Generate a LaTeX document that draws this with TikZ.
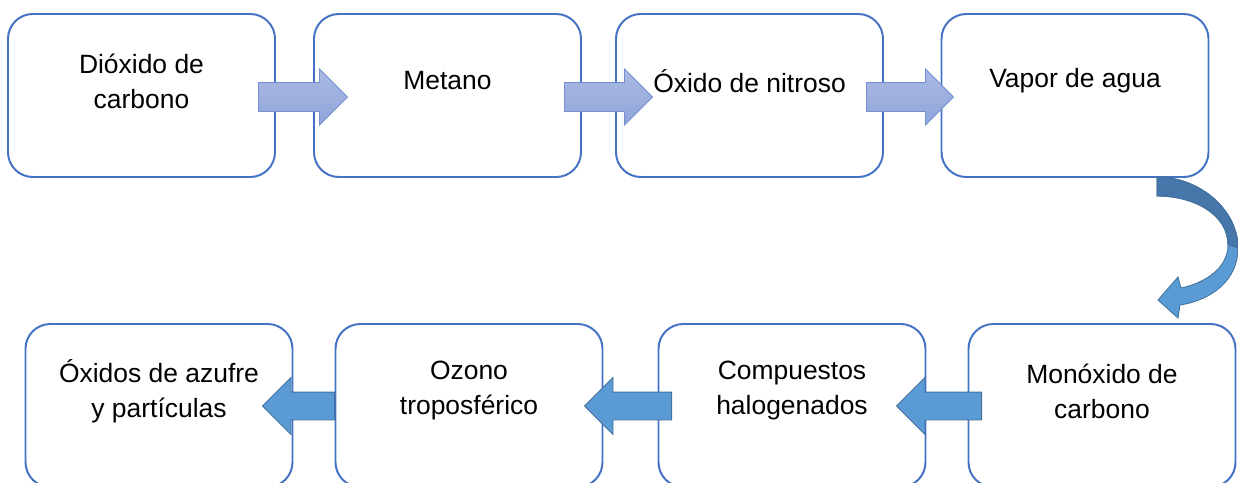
\documentclass[tikz,border=0pt]{standalone}
\usepackage{fontspec}
\setmainfont{Liberation Sans}
\usetikzlibrary{shapes.arrows}
\definecolor{boxblue}{HTML}{4472C4}
\definecolor{arrtop}{HTML}{AAB9E3}
\definecolor{arrbot}{HTML}{8FA5DA}
\definecolor{arrline}{HTML}{7490D0}
\definecolor{backblue}{HTML}{5B9BD5}
\definecolor{backline}{HTML}{41719C}
\definecolor{curvedark}{HTML}{4676AA}
\newcommand{\px}{0.025cm}

\begin{document}
\begin{tikzpicture}[x=0.025cm,y=-0.025cm,
    gasbox/.style={draw=boxblue,line width=1.4pt,rounded corners=0.62cm,
      minimum width=267*\px,minimum height=163*\px,inner sep=0pt},
    gastext/.style={align=center,font=\fontsize{18.8}{24.9}\selectfont},
    fwdarrow/.style={single arrow,single arrow head extend=0.3375cm,
      text height=0.35cm,text depth=0.35cm,inner sep=0pt,anchor=tail,
      top color=arrtop,bottom color=arrbot,draw=arrline,line width=0.6pt},
    backarrow/.style={single arrow,single arrow head extend=0.3625cm,
      text height=0.3375cm,text depth=0.3375cm,inner sep=0pt,anchor=tail,
      fill=backblue,draw=backline,line width=0.6pt,shape border rotate=180}]
    % marco
    \useasboundingbox (0,0) rectangle (1238,482);

    % fila de arriba
    \node[gasbox] (b1) at (141.5,95.5) {};
    \node[gasbox] (b2) at (447.5,95.5) {};
    \node[gasbox] (b3) at (749.5,95.5) {};
    \node[gasbox] (b4) at (1075,95.5) {};

    % fila de abajo
    \node[gasbox] (b5) at (159,405.5) {};
    \node[gasbox] (b6) at (469,405.5) {};
    \node[gasbox] (b7) at (792,405.5) {};
    \node[gasbox] (b8) at (1102,405.5) {};

    % textos
    \node[gastext] (t1) at ([yshift=0.3625cm]b1.center) {Dióxido de\\carbono};
    \node[gastext] (t2) at ([yshift=0.3625cm]b2.center) {Metano};
    \node[gastext] (t3) at ([yshift=0.3625cm]b3.center) {Óxido de nitroso};
    \node[gastext] (t4) at ([yshift=0.3625cm]b4.center) {Vapor de agua};
    \node[gastext] (t5) at ([yshift=0.3625cm]b5.center) {Óxidos de azufre\\y partículas};
    \node[gastext] (t6) at ([yshift=0.3625cm]b6.center) {Ozono\\troposférico};
    \node[gastext] (t7) at ([yshift=0.3625cm]b7.center) {Compuestos\\halogenados};
    \node[gastext] (t8) at ([yshift=0.3625cm]b8.center) {Monóxido de\\carbono};

    % flechas de arriba
    \node[fwdarrow,minimum height=89*\px] (a12) at (258,97) {};
    \node[fwdarrow,minimum height=88*\px] (a23) at (564,97) {};
    \node[fwdarrow,minimum height=87*\px] (a34) at (866,97) {};

    % flechas de abajo
    \node[backarrow,minimum height=85*\px] (a87) at (982,406) {};
    \node[backarrow,minimum height=87*\px] (a76) at (672,406) {};
    \node[backarrow,minimum height=72*\px] (a65) at (335,406) {};

    % flecha curva
    \filldraw[fill=backblue,draw=backline,line width=0.6pt]
      (1157,177) .. controls (1200,177) and (1238,210) .. (1238,248)
      .. controls (1238,280) and (1212,300) .. (1180,305)
      -- (1178,318) -- (1158,300) -- (1178,277) -- (1181,288)
      .. controls (1205,283) and (1228,268) .. (1228,245)
      .. controls (1228,215) and (1195,196) .. (1157,196) -- cycle;
    \filldraw[fill=curvedark,draw=backline,line width=0.6pt]
      (1157,177) .. controls (1200,177) and (1238,210) .. (1238,248)
      -- (1228,245) .. controls (1228,215) and (1195,196) .. (1157,196) -- cycle;
\end{tikzpicture}
\end{document}
